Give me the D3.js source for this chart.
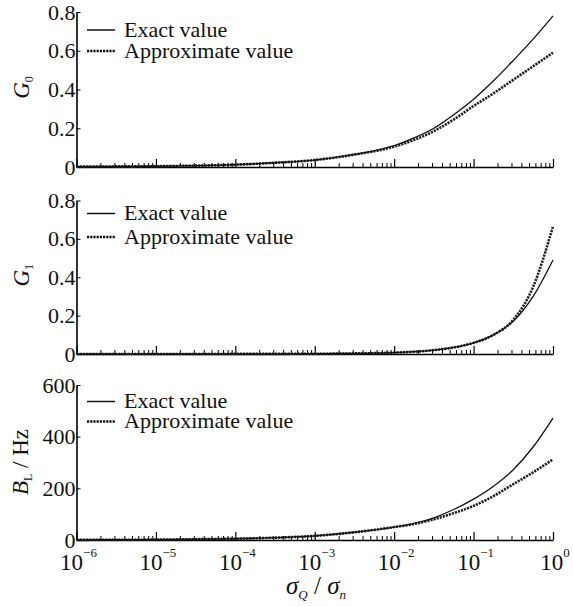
<!DOCTYPE html>
<html>
<head>
<meta charset="utf-8">
<script src="https://cdn.jsdelivr.net/npm/d3@7"></script>
</head>
<body style="margin:0;background:#fff">
<div id="chart"></div>
<script>
// sample points along the log x axis (sigma_Q / sigma_n)
var xVals = [1e-6, 3.16e-6, 1e-5, 3.16e-5, 1e-4, 3.16e-4, 1e-3, 3.16e-3, 1e-2, 1.78e-2, 3.16e-2, 5.62e-2, 1e-1, 1.78e-1, 3.16e-1, 5.62e-1, 1];

var g0Exact  = [0.002, 0.003, 0.004, 0.007, 0.012, 0.022, 0.036, 0.065, 0.11, 0.15, 0.2, 0.27, 0.35, 0.445, 0.55, 0.66, 0.78];
var g0Approx = [0.002, 0.003, 0.004, 0.007, 0.012, 0.022, 0.036, 0.064, 0.105, 0.14, 0.185, 0.245, 0.315, 0.38, 0.45, 0.52, 0.59];

var g1Exact  = [0, 0, 0, 0, 0.0005, 0.0008, 0.0012, 0.003, 0.007, 0.012, 0.02, 0.034, 0.058, 0.1, 0.17, 0.3, 0.49];
var g1Approx = [0, 0, 0, 0, 0.0005, 0.0008, 0.0012, 0.003, 0.007, 0.012, 0.02, 0.034, 0.058, 0.1, 0.178, 0.35, 0.665];

var blExact  = [0.5, 1, 1.5, 3, 5, 9, 16, 30, 50, 64, 86, 118, 158, 208, 272, 360, 472];
var blApprox = [0.5, 1, 1.5, 3, 5, 9, 16, 30, 50, 62, 80, 104, 132, 170, 216, 262, 312];

var g0Ticks = [0, 0.2, 0.4, 0.6, 0.8];
var g1Ticks = [0, 0.2, 0.4, 0.6, 0.8];
var blTicks = [0, 200, 400, 600];
var xMajor = [1e-6, 1e-5, 1e-4, 1e-3, 1e-2, 1e-1, 1];
var xExpLabels = ["\u22126", "\u22125", "\u22124", "\u22123", "\u22122", "\u22121", "0"];

var legendNames = ["Exact value", "Approximate value"];

var width = 573, height = 607;
var left = 76.5, right = 553;

var svg = d3.select("#chart").append("svg")
  .attr("width", width)
  .attr("height", height);

var x = d3.scaleLog().domain([1e-6, 1]).range([left, right]);

var panels = [
  { top: 12, bottom: 167, max: 0.8, ticks: g0Ticks, exact: g0Exact, approx: g0Approx, sub: "0", legY: [30, 51] },
  { top: 200.5, bottom: 354, max: 0.8, ticks: g1Ticks, exact: g1Exact, approx: g1Approx, sub: "1", legY: [213.5, 237] },
  { top: 385, bottom: 540, max: 600, ticks: blTicks, exact: blExact, approx: blApprox, sub: "L", legY: [401.5, 421.5] }
];

var allTicks = x.ticks();
var minorTicks = allTicks.filter(function(d) { return xMajor.indexOf(d) < 0; });

panels.forEach(function(p, i) {
  var y = d3.scaleLinear().domain([0, p.max]).range([p.bottom, p.top]);

  // x axis: inward major and minor ticks
  svg.append("g")
    .attr("transform", "translate(0," + p.bottom + ")")
    .call(d3.axisBottom(x).tickValues(minorTicks).tickSize(-4).tickSizeOuter(0).tickFormat(""))
    .call(function(g) { g.selectAll("line").attr("stroke-width", 1); g.select(".domain").attr("stroke-width", 1.6); });
  svg.append("g")
    .attr("transform", "translate(0," + p.bottom + ")")
    .call(d3.axisBottom(x).tickValues(xMajor).tickSize(-8).tickSizeOuter(0).tickFormat(""))
    .call(function(g) { g.selectAll("line").attr("stroke-width", 1.2); g.select(".domain").remove(); });

  // y axis
  var fmt = function(d) { return d === 0 ? "0" : (p.max < 1 ? d.toFixed(1) : d); };
  svg.append("g")
    .attr("transform", "translate(" + left + ",0)")
    .call(d3.axisLeft(y).tickValues(p.ticks).tickSize(-4).tickSizeOuter(0).tickPadding(1).tickFormat(fmt))
    .call(function(g) {
      g.attr("font-family", null);
      g.select(".domain").attr("stroke-width", 1.6);
      g.selectAll("text").attr("font-size", 22).attr("fill", "#111");
    });

  var line = d3.line()
    .x(function(d) { return x(d[0]); })
    .y(function(d) { return y(d[1]); })
    .curve(d3.curveMonotoneX);

  svg.append("path")
    .datum(xVals.map(function(v, k) { return [v, p.approx[k]]; }))
    .attr("fill", "none")
    .attr("stroke", "#222")
    .attr("stroke-width", 2.6)
    .attr("stroke-dasharray", "2.2,1")
    .attr("d", line);

  svg.append("path")
    .datum(xVals.map(function(v, k) { return [v, p.exact[k]]; }))
    .attr("fill", "none")
    .attr("stroke", "#111")
    .attr("stroke-width", 1.3)
    .attr("d", line);

  // legend
  legendNames.forEach(function(name, k) {
    var ly = p.legY[k];
    svg.append("line")
      .attr("x1", 87).attr("x2", 115)
      .attr("y1", ly).attr("y2", ly)
      .attr("stroke", "#111")
      .attr("stroke-width", k === 0 ? 1.5 : 2.6)
      .attr("stroke-dasharray", k === 0 ? null : "2.2,1");
    svg.append("text")
      .attr("x", 124).attr("y", ly + 6.5)
      .attr("font-size", 22)
      .attr("fill", "#111")
      .text(name);
  });

  // y title
  var cy = (p.top + p.bottom) / 2;
  var t = svg.append("text")
    .attr("transform", "translate(" + (i === 2 ? 28 : 29) + "," + (i === 2 ? 462 : cy - 2) + ") rotate(-90)")
    .attr("text-anchor", "middle")
    .attr("font-size", 23)
    .attr("fill", "#111");
  if (i < 2) {
    t.append("tspan").attr("font-style", "italic").text("G");
    t.append("tspan").attr("font-size", 12).attr("dy", 4).text(p.sub);
  } else {
    t.append("tspan").attr("font-style", "italic").text("B");
    t.append("tspan").attr("font-size", 12).attr("dy", 4).text("L");
    t.append("tspan").attr("dy", -4).text(" / Hz");
  }
});

// x tick labels on the bottom panel
xMajor.forEach(function(v, k) {
  var t = svg.append("text")
    .attr("x", x(v) + 2)
    .attr("y", 570)
    .attr("text-anchor", "middle")
    .attr("font-size", 23)
    .attr("fill", "#111");
  t.append("tspan").text("10");
  t.append("tspan").attr("font-size", 13).attr("dy", -13).text(xExpLabels[k]);
});

// x title
var xt = svg.append("text")
  .attr("x", 316)
  .attr("y", 594)
  .attr("text-anchor", "middle")
  .attr("font-size", 25)
  .attr("fill", "#111");
xt.append("tspan").attr("font-style", "italic").text("\u03C3");
xt.append("tspan").attr("font-style", "italic").attr("font-size", 13).attr("dy", 5).text("Q");
xt.append("tspan").attr("dy", -5).text(" / ");
xt.append("tspan").attr("font-style", "italic").text("\u03C3");
xt.append("tspan").attr("font-style", "italic").attr("font-size", 13).attr("dy", 5).text("n");

// serif font on every text element
svg.selectAll("text").style("font-family", "'Liberation Serif'");
</script>
</body>
</html>
